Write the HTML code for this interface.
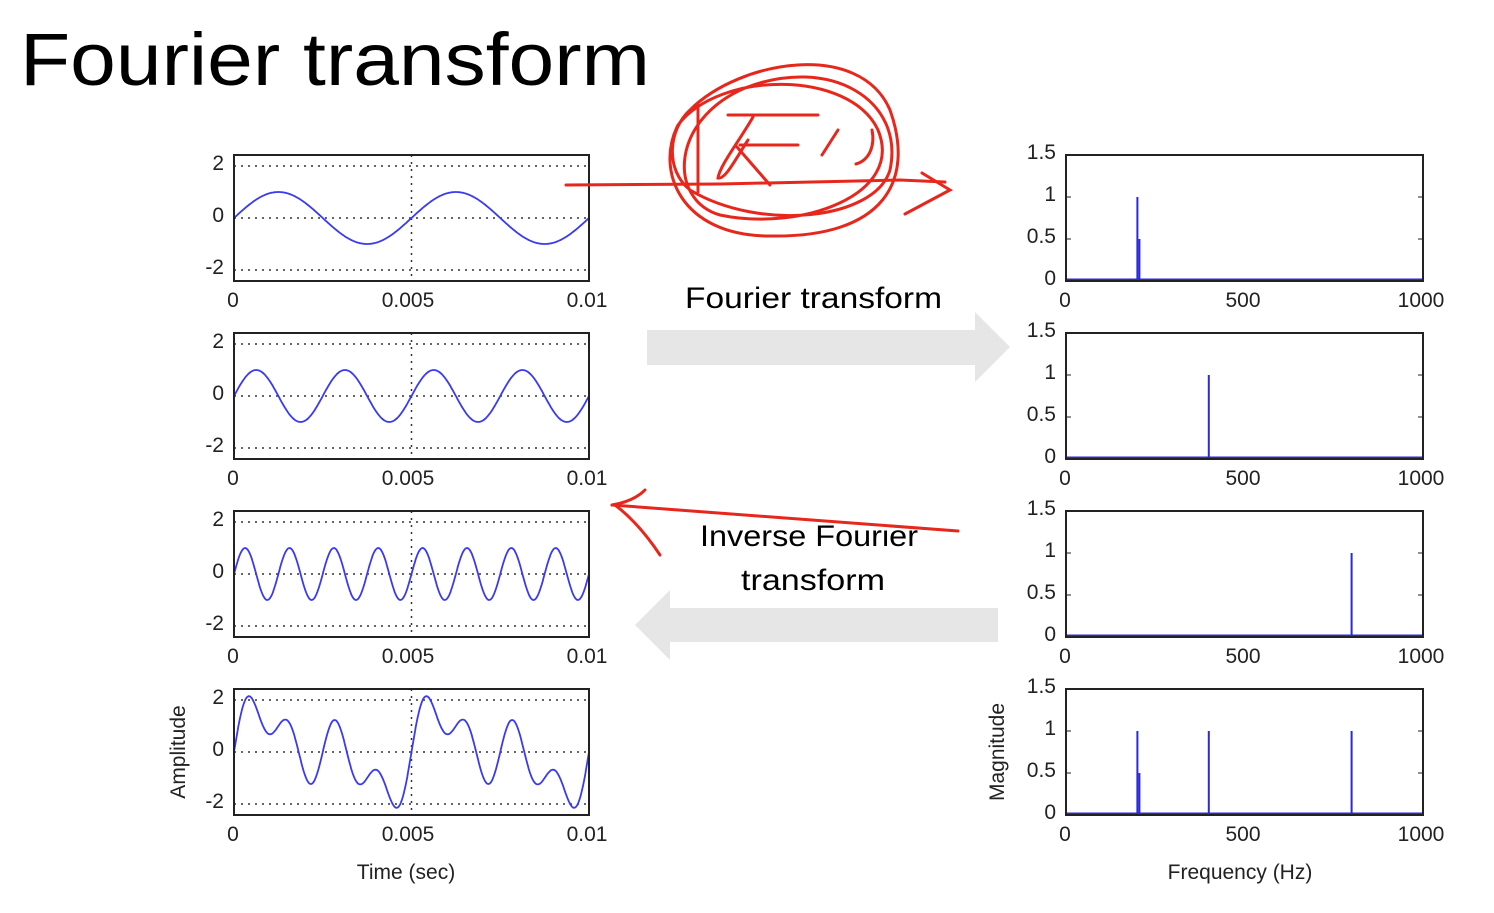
<!DOCTYPE html>
<html><head><meta charset="utf-8"><style>
body{margin:0;background:#fff;width:1494px;height:908px;overflow:hidden}
svg text{font-family:"Liberation Sans",sans-serif}
</style></head><body>
<svg id="s" width="1494" height="908" xmlns="http://www.w3.org/2000/svg">
<text x="20" y="85" font-size="74" fill="#000" textLength="630" lengthAdjust="spacingAndGlyphs">Fourier transform</text>
<polygon points="647,330 975,330 975,312 1010,347 975,382 975,365 647,365" fill="#e6e6e6"/>
<polygon points="998,608 670,608 670,590 635,625 670,660 670,642 998,642" fill="#e6e6e6"/>
<text x="685" y="308" font-size="30" fill="#000" textLength="257" lengthAdjust="spacingAndGlyphs">Fourier transform</text>
<text x="700" y="546" font-size="30" fill="#000" textLength="218" lengthAdjust="spacingAndGlyphs">Inverse Fourier</text>
<text x="741" y="590" font-size="30" fill="#000" textLength="144" lengthAdjust="spacingAndGlyphs">transform</text>
<g id="plots"></g>
<g fill="none" stroke="#e8271c" stroke-width="3" stroke-linecap="round">
<path d="M566,185 L720,184 L900,180 L945,182"/>
<path d="M922,173 L950,190 L905,214"/>
<path d="M690,110 C740,60 860,40 890,110 C915,180 885,238 770,236 C680,236 655,170 678,125 C720,70 850,70 878,130 C905,195 800,232 720,215 C668,200 670,120 745,88 C830,55 905,100 890,170 C875,220 760,232 690,190 C665,170 668,130 690,110"/>
<path d="M698,105 L698,192"/>
<path d="M728,115 L818,115 M740,145 L798,145"/>
<path d="M753,117 C740,140 720,165 718,178 C725,180 735,160 748,140"/>
<path d="M737,147 L770,185"/>
<path d="M838,130 L822,155"/>
<path d="M872,130 C875,145 870,160 856,164"/>
<path d="M612,505 L958,531"/>
<path d="M612,505 C630,502 640,495 645,490 M615,505 C635,520 650,540 660,555"/>
</g>
<text transform="translate(185,752) rotate(-90)" font-size="21" text-anchor="middle" fill="#222">Amplitude</text>
<text x="406" y="879" font-size="21" text-anchor="middle" fill="#222">Time (sec)</text>
<text transform="translate(1004,752) rotate(-90)" font-size="21" text-anchor="middle" fill="#222">Magnitude</text>
<text x="1240" y="879" font-size="21" text-anchor="middle" fill="#222">Frequency (Hz)</text>
</svg>
<script>
var g=document.getElementById('plots'),h='';
var tops=[155,333,511,689],H=126,L=234,R=589,W=R-L;
var RL=1066,RR=1423,RW=RR-RL;
function f(i,t){var p=2*Math.PI;if(i==0)return Math.sin(p*200*t);if(i==1)return Math.sin(p*400*t);if(i==2)return Math.sin(p*800*t);return Math.sin(p*200*t)+Math.sin(p*400*t)+Math.sin(p*800*t)*0.9;}
for(var i=0;i<4;i++){var T=tops[i],c=T+H/2,k=26;
 [c-2*k,c,c+2*k].forEach(function(y){h+='<line x1="'+L+'" y1="'+y+'" x2="'+R+'" y2="'+y+'" stroke="#333" stroke-width="1.5" stroke-dasharray="2,5"/>';});
 h+='<line x1="'+(L+W/2)+'" y1="'+T+'" x2="'+(L+W/2)+'" y2="'+(T+H)+'" stroke="#333" stroke-width="1.5" stroke-dasharray="2,5"/>';
 var pts=[];for(var j=0;j<=600;j++){var t=0.01*j/600;pts.push((L+W*j/600).toFixed(1)+','+(c-k*f(i,t)).toFixed(1));}
 h+='<polyline points="'+pts.join(' ')+'" fill="none" stroke="#3a3af0" stroke-width="1.8"/>';
 h+='<rect x="'+L+'" y="'+T+'" width="'+W+'" height="'+H+'" fill="none" stroke="#222" stroke-width="2"/>';
 h+='<text x="224" y="'+(c-2*k+4)+'" font-size="21" text-anchor="end" fill="#222">2</text>';
 h+='<text x="224" y="'+(c+4)+'" font-size="21" text-anchor="end" fill="#222">0</text>';
 h+='<text x="224" y="'+(c+2*k+4)+'" font-size="21" text-anchor="end" fill="#222">-2</text>';
 var ly=T+H+26;
 h+='<text x="233" y="'+ly+'" font-size="21" text-anchor="middle" fill="#222">0</text>';
 h+='<text x="408" y="'+ly+'" font-size="21" text-anchor="middle" fill="#222">0.005</text>';
 h+='<text x="587" y="'+ly+'" font-size="21" text-anchor="middle" fill="#222">0.01</text>';
 var B=T+H,sc=H/1.5;
 h+='<line x1="'+RL+'" y1="'+(B-1.5)+'" x2="'+RR+'" y2="'+(B-1.5)+'" stroke="#2a2ad8" stroke-width="2"/>';
 var fr=i==0?[200]:i==1?[400]:i==2?[800]:[200,400,800];
 fr.forEach(function(q){var x=RL+RW*q/1000;h+='<line x1="'+x+'" y1="'+B+'" x2="'+x+'" y2="'+(B-sc)+'" stroke="#2a2ad8" stroke-width="2"/>';
  if(q==200)h+='<line x1="'+(x+2)+'" y1="'+B+'" x2="'+(x+2)+'" y2="'+(B-sc*0.5)+'" stroke="#2a2ad8" stroke-width="2"/>';});
 h+='<rect x="'+RL+'" y="'+T+'" width="'+RW+'" height="'+H+'" fill="none" stroke="#222" stroke-width="2"/>';
 [[0,'0'],[0.5,'0.5'],[1,'1'],[1.5,'1.5']].forEach(function(a){h+='<text x="1056" y="'+(B-a[0]*sc+4)+'" font-size="21" text-anchor="end" fill="#222">'+a[1]+'</text>';
  if(a[0]>0&&a[0]<1.5){h+='<line x1="'+RL+'" y1="'+(B-a[0]*sc)+'" x2="'+(RL+5)+'" y2="'+(B-a[0]*sc)+'" stroke="#222"/><line x1="'+(RR-5)+'" y1="'+(B-a[0]*sc)+'" x2="'+RR+'" y2="'+(B-a[0]*sc)+'" stroke="#222"/>';}});
 h+='<text x="1065" y="'+ly+'" font-size="21" text-anchor="middle" fill="#222">0</text>';
 h+='<text x="1243" y="'+ly+'" font-size="21" text-anchor="middle" fill="#222">500</text>';
 h+='<text x="1421" y="'+ly+'" font-size="21" text-anchor="middle" fill="#222">1000</text>';
}
g.innerHTML=h;
</script>
</body></html>
